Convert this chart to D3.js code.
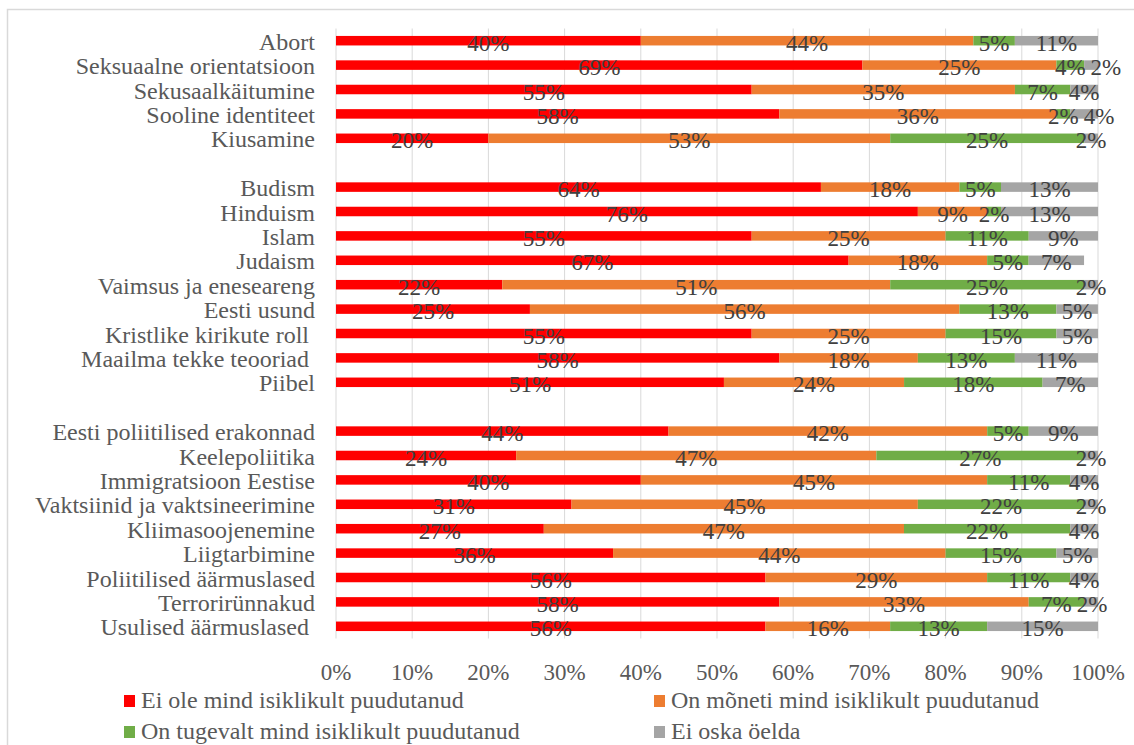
<!DOCTYPE html>
<html>
<head>
<meta charset="utf-8">
<script src="https://cdn.jsdelivr.net/npm/d3@7"></script>
<style>
  body { margin: 0; background: #fff; }
  text { font-family: "Liberation Serif", "Times New Roman", serif; white-space: pre; }
</style>
</head>
<body>
<svg id="chart"></svg>
<script>
const width = 1134;
const height = 745;

// categories, top to bottom ("" = empty row between groups)
const categories = [
  "Abort", "Seksuaalne orientatsioon", "Sekusaalkäitumine", "Sooline identiteet", "Kiusamine",
  "",
  "Budism", "Hinduism", "Islam", "Judaism", "Vaimsus ja eneseareng", "Eesti usund",
  "Kristlike kirikute roll ", "Maailma tekke teooriad ", "Piibel",
  " ",
  "Eesti poliitilised erakonnad", "Keelepoliitika", "Immigratsioon Eestise",
  "Vaktsiinid ja vaktsineerimine", "Kliimasoojenemine", "Liigtarbimine",
  "Poliitilised äärmuslased", "Terrorirünnakud", "Usulised äärmuslased "
];

// series values in %, same order as categories (null for empty rows)
const notAffected = [40.00, 69.09, 54.55, 58.18, 20.00, null,
  63.64, 76.36, 54.55, 67.27, 21.82, 25.45, 54.55, 58.18, 50.91, null,
  43.64, 23.64, 40.00, 30.91, 27.27, 36.36, 56.36, 58.18, 56.36];
const somewhatAffected = [43.64, 25.45, 34.55, 36.36, 52.73, null,
  18.18, 9.09, 25.45, 18.18, 50.91, 56.36, 25.45, 18.18, 23.64, null,
  41.82, 47.27, 45.45, 45.45, 47.27, 43.64, 29.09, 32.73, 16.36];
const stronglyAffected = [5.45, 3.64, 7.27, 1.82, 25.45, null,
  5.45, 1.82, 10.91, 5.45, 25.45, 12.73, 14.55, 12.73, 18.18, null,
  5.45, 27.27, 10.91, 21.82, 21.82, 14.55, 10.91, 7.27, 12.73];
const cantSay = [10.91, 1.82, 3.64, 3.64, 1.82, null,
  12.73, 12.73, 9.09, 7.27, 1.82, 5.45, 5.45, 10.91, 7.27, null,
  9.09, 1.82, 3.64, 1.82, 3.64, 5.45, 3.64, 1.82, 14.55];

const seriesNames = [
  "Ei ole mind isiklikult puudutanud",
  "On mõneti mind isiklikult puudutanud",
  "On tugevalt mind isiklikult puudutanud",
  "Ei oska öelda"
];
const colors = ["#FF0000", "#ED7D31", "#70AD47", "#A5A5A5"];
const ticks = [0, 10, 20, 30, 40, 50, 60, 70, 80, 90, 100];

const seriesValues = [notAffected, somewhatAffected, stronglyAffected, cantSay];

const svg = d3.select("#chart")
  .attr("width", width)
  .attr("height", height);

// chart border
svg.append("rect")
  .attr("x", 7.5).attr("y", 9.5)
  .attr("width", width + 20).attr("height", height + 20)
  .attr("fill", "none")
  .attr("stroke", "#d9d9d9")
  .attr("stroke-width", 1.5);

const x = d3.scaleLinear().domain([0, 100]).range([336, 1098]);
const y = d3.scaleBand()
  .domain(categories)
  .range([28.5, 638.5])
  .paddingInner(0.61)
  .paddingOuter(0.305);

// gridlines
svg.append("g")
  .selectAll("line")
  .data(ticks)
  .join("line")
  .attr("x1", d => x(d)).attr("x2", d => x(d))
  .attr("y1", 28.5).attr("y2", 638.5)
  .attr("stroke", "#d9d9d9")
  .attr("stroke-width", 1);

// tick labels
svg.append("g")
  .selectAll("text")
  .data(ticks)
  .join("text")
  .attr("x", d => x(d))
  .attr("y", 680)
  .attr("text-anchor", "middle")
  .attr("font-size", 23)
  .attr("fill", "#595959")
  .text(d => d + "%");

// stacked rows
const rows = categories.map((c, i) => {
  let start = 0;
  return seriesValues.map((s, k) => {
    const v = s[i];
    const seg = { cat: c, k: k, v: v, x0: start, x1: start + (v || 0) };
    start += v || 0;
    return seg;
  }).filter(s => s.v != null);
});
const segments = rows.flat();

svg.append("g")
  .selectAll("rect")
  .data(segments)
  .join("rect")
  .attr("x", d => x(d.x0))
  .attr("y", d => y(d.cat))
  .attr("width", d => x(d.x1) - x(d.x0))
  .attr("height", y.bandwidth())
  .attr("fill", d => colors[d.k]);

// data labels
const labels = svg.append("g")
  .selectAll("text")
  .data(segments)
  .join("text")
  .attr("x", d => x((d.x0 + d.x1) / 2))
  .attr("y", d => y(d.cat) + y.bandwidth() / 2 + 10)
  .attr("text-anchor", "middle")
  .attr("font-size", 23)
  .attr("fill", "#404040")
  .text(d => Math.round(d.v) + "%");

// nudge labels right when they would collide with the previous one in a row
const lastRight = {};
labels.each(function(d) {
  const el = d3.select(this);
  const w = this.getComputedTextLength();
  let cx = +el.attr("x");
  const prev = lastRight[d.cat];
  if (prev !== undefined && cx - w / 2 < prev + 5) {
    cx = prev + 5 + w / 2;
    el.attr("x", cx);
  }
  lastRight[d.cat] = cx + w / 2;
});

// category labels
svg.append("g")
  .selectAll("text")
  .data(categories.filter(c => c.trim() !== ""))
  .join("text")
  .attr("x", 315)
  .attr("y", d => y(d) + y.bandwidth() / 2 + 9)
  .attr("text-anchor", "end")
  .attr("font-size", 24)
  .attr("fill", "#595959")
  .text(d => d);

// legend
const legendPos = [[124, 708], [654, 708], [124, 739], [654, 739]];
const legend = svg.append("g")
  .selectAll("g")
  .data(seriesNames)
  .join("g")
  .attr("transform", (d, i) => `translate(${legendPos[i][0]},${legendPos[i][1]})`);

legend.append("rect")
  .attr("x", 0).attr("y", -13)
  .attr("width", 11).attr("height", 12)
  .attr("fill", (d, i) => colors[i]);

legend.append("text")
  .attr("x", 17)
  .attr("y", 0)
  .attr("font-size", 24)
  .attr("fill", "#595959")
  .text(d => d);
</script>
</body>
</html>
